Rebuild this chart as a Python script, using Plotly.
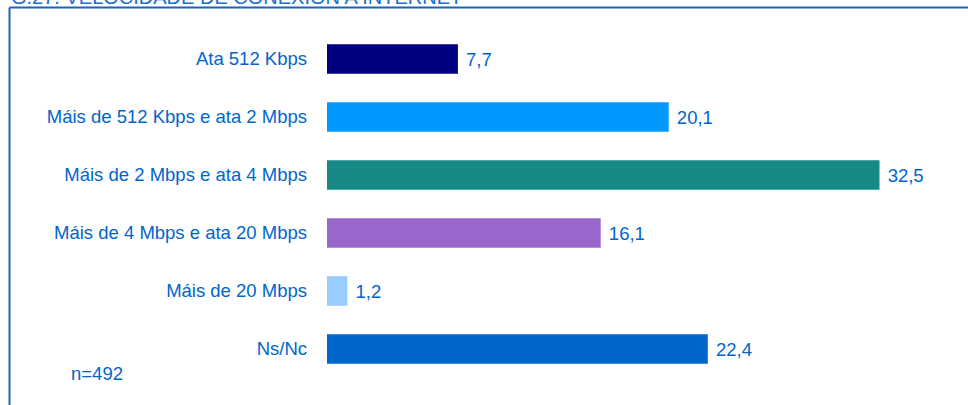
import plotly.graph_objects as go

categories = ["Ata 512 Kbps", "Máis de 512 Kbps e ata 2 Mbps", "Máis de 2 Mbps e ata 4 Mbps",
              "Máis de 4 Mbps e ata 20 Mbps", "Máis de 20 Mbps", "Ns/Nc"]
values = [7.7, 20.1, 32.5, 16.1, 1.2, 22.4]
colors = ["#000080", "#0099ff", "#178a87", "#9966cc", "#99ccff", "#0066cc"]
title_text = "G.27. VELOCIDADE DE CONEXIÓN A INTERNET"
note_text = "n=492"

TXT = "#0066cc"
FONT = "Liberation Sans, Arial, sans-serif"
FS = 18.5
L, R, T, B = 327, 12, 30, 27
W, H = 968, 405
pw = W - L - R
ph = H - T - B

def px_x(p):
    return (p - L) / pw

def px_y(p):
    return (H - B - p) / ph

fig = go.Figure(go.Bar(
    x=values, y=categories, orientation="h",
    marker=dict(color=colors, line=dict(width=0)),
    width=0.51,
    texttemplate=" %{x:.1f}", textposition="outside",
    textfont=dict(color=TXT, size=FS, family=FONT),
    cliponaxis=False, hoverinfo="skip",
))

fig.update_layout(
    width=W, height=H,
    margin=dict(l=L, r=R, t=T, b=B),
    paper_bgcolor="white", plot_bgcolor="white",
    separators=",.",
    showlegend=False,
    font=dict(family=FONT, color=TXT, size=FS),
    xaxis=dict(range=[0, 37], visible=False, showgrid=False, zeroline=False),
    yaxis=dict(autorange="reversed", showgrid=False, zeroline=False, showline=False,
               ticks="", ticklabelstandoff=19,
               tickfont=dict(color=TXT, size=FS, family=FONT)),
    shapes=[
        dict(type="line", xref="paper", yref="paper", x0=px_x(9.5), x1=px_x(9.5),
             y0=px_y(7.5), y1=px_y(420), line=dict(color="#1f62b8", width=2)),
        dict(type="line", xref="paper", yref="paper", x0=px_x(9.5), x1=px_x(980),
             y0=px_y(7.5), y1=px_y(7.5), line=dict(color="#1f62b8", width=2)),
    ],
    annotations=[
        dict(text=title_text, xref="paper", yref="paper", x=px_x(9), y=px_y(10),
             xanchor="left", yanchor="bottom", showarrow=False,
             font=dict(size=20, color="#1a6fd0", family=FONT)),
        dict(text=note_text, xref="paper", yref="paper", x=px_x(69), y=px_y(373),
             xanchor="left", yanchor="middle", showarrow=False,
             font=dict(size=FS, color=TXT, family=FONT)),
    ],
)

fig.write_html("out.html", config={"displayModeBar": False},
               post_script="document.body.style.margin='0';document.body.style.overflow='hidden';")
